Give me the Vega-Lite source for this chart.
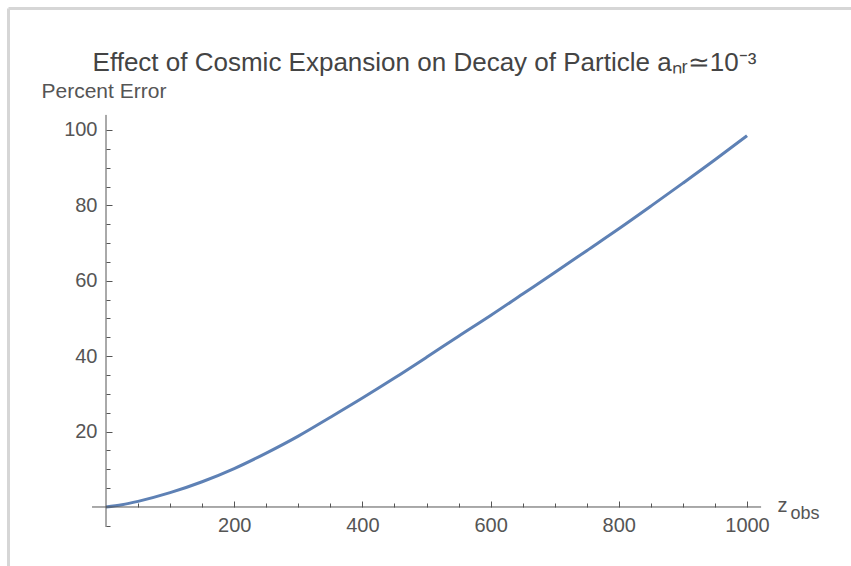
{
  "$schema": "https://vega.github.io/schema/vega-lite/v6.json",
  "width": 843,
  "height": 558,
  "autosize": {"type": "none"},
  "padding": {"left": 8, "top": 8, "right": 0, "bottom": 0},
  "background": "white",
  "config": {"view": {"stroke": null}, "font": "Liberation Sans", "axis": {"grid": false}},
  "title": {
    "text": "Effect of Cosmic Expansion on Decay of Particle aₙᵣ≃10⁻³",
    "fontSize": 26,
    "font": "Liberation Sans",
    "fontWeight": "normal",
    "color": "#444444",
    "anchor": "middle",
    "baseline": "alphabetic",
    "offset": -89,
    "dx": -5
  },
  "data": {
    "values": [
      {"z": 0, "pct": 0},
      {"z": 25, "pct": 0.6},
      {"z": 50, "pct": 1.5},
      {"z": 100, "pct": 3.8},
      {"z": 150, "pct": 6.7},
      {"z": 200, "pct": 10.2},
      {"z": 250, "pct": 14.3},
      {"z": 300, "pct": 18.8},
      {"z": 350, "pct": 23.8},
      {"z": 400, "pct": 28.9},
      {"z": 450, "pct": 34.2},
      {"z": 500, "pct": 39.7},
      {"z": 550, "pct": 45.3},
      {"z": 600, "pct": 50.8},
      {"z": 650, "pct": 56.5},
      {"z": 700, "pct": 62.2},
      {"z": 750, "pct": 68.0},
      {"z": 800, "pct": 73.8},
      {"z": 850, "pct": 79.8},
      {"z": 900, "pct": 85.9},
      {"z": 950, "pct": 92.1},
      {"z": 1000, "pct": 98.5}
    ]
  },
  "resolve": {"axis": {"x": "independent", "y": "independent"}},
  "layer": [
    {
      "mark": {"type": "line", "color": "#5E81B5", "strokeWidth": 3, "interpolate": "monotone"},
      "encoding": {
        "x": {
          "field": "z", "type": "quantitative",
          "scale": {"domain": [-152.89, 1162.24], "nice": false, "zero": false},
          "axis": {
            "orient": "bottom", "offset": -59, "values": [200, 400, 600, 800, 1000], "format": "d",
            "domain": false, "tickSize": -6, "tickColor": "#555555", "tickWidth": 1,
            "labelFontSize": 20, "labelColor": "#555555", "labelPadding": 14, "labelFont": "Liberation Sans",
            "title": "z", "titleFont": "Liberation Sans", "titleFontSize": 20, "titleFontWeight": "normal", "titleColor": "#555555",
            "titleX": 769, "titleY": 4, "titleAlign": "left", "titleBaseline": "alphabetic", "titleAngle": 0
          }
        },
        "y": {
          "field": "pct", "type": "quantitative",
          "scale": {"domain": [-15.65, 132.36], "nice": false, "zero": false},
          "axis": {
            "orient": "left", "offset": -98, "values": [20, 40, 60, 80, 100],
            "domain": false, "tickSize": -6, "tickColor": "#555555", "tickWidth": 1,
            "labelFontSize": 20, "labelColor": "#555555", "labelPadding": 15, "labelFont": "Liberation Sans",
            "title": "Percent Error", "titleFont": "Liberation Sans", "titleFontSize": 21, "titleFontWeight": "normal", "titleColor": "#555555",
            "titleX": -65, "titleY": 89, "titleAlign": "left", "titleBaseline": "alphabetic", "titleAngle": 0
          }
        }
      }
    },
    {
      "mark": {"type": "line", "opacity": 0},
      "encoding": {
        "x": {
          "field": "z", "type": "quantitative",
          "scale": {"domain": [-152.89, 1162.24], "nice": false, "zero": false},
          "axis": {
            "orient": "bottom", "offset": -59,
            "values": [50, 100, 150, 250, 300, 350, 450, 500, 550, 650, 700, 750, 850, 900, 950],
            "domain": false, "labels": false, "tickSize": -4, "tickColor": "#555555", "tickWidth": 1,
            "title": "obs", "titleFont": "Liberation Sans", "titleFontSize": 18, "titleFontWeight": "normal", "titleColor": "#555555",
            "titleX": 782, "titleY": 11, "titleAlign": "left", "titleBaseline": "alphabetic", "titleAngle": 0
          }
        },
        "y": {
          "field": "pct", "type": "quantitative",
          "scale": {"domain": [-15.65, 132.36], "nice": false, "zero": false},
          "axis": {
            "orient": "left", "offset": -98,
            "values": [-5, 5, 10, 15, 25, 30, 35, 45, 50, 55, 65, 70, 75, 85, 90, 95],
            "domain": false, "labels": false, "tickSize": -4, "tickColor": "#555555", "tickWidth": 1,
            "title": null
          }
        }
      }
    },
    {
      "data": {"values": [{}]},
      "mark": {"type": "rule", "color": "#555555", "strokeWidth": 1},
      "encoding": {
        "x": {
          "datum": -21.8, "type": "quantitative",
          "scale": {"domain": [-152.89, 1162.24], "nice": false, "zero": false},
          "axis": {"orient": "top", "offset": 0, "domain": true, "domainColor": "#d6d6d6", "domainWidth": 3, "ticks": false, "labels": false, "title": null}
        },
        "x2": {"datum": 1022},
        "y": {
          "datum": 0, "type": "quantitative",
          "scale": {"domain": [-15.65, 132.36], "nice": false, "zero": false},
          "axis": {"orient": "left", "offset": 0, "domain": true, "domainColor": "#d6d6d6", "domainWidth": 3, "ticks": false, "labels": false, "title": null}
        }
      }
    },
    {
      "data": {"values": [{}]},
      "mark": {"type": "rule", "color": "#555555", "strokeWidth": 1},
      "encoding": {
        "x": {"datum": 0, "type": "quantitative", "axis": null},
        "y": {"datum": -5.3, "type": "quantitative", "axis": null},
        "y2": {"datum": 104}
      }
    }
  ]
}
